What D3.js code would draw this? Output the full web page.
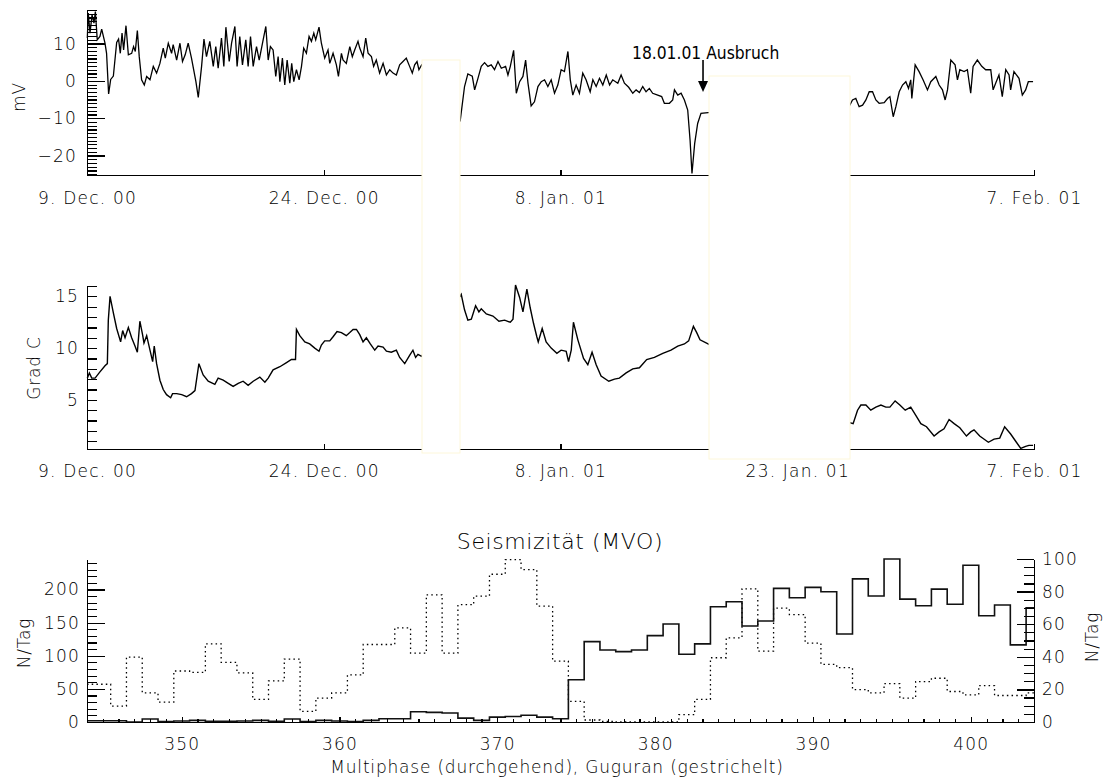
<!DOCTYPE html>
<html lang="de">
<head>
<meta charset="UTF-8">
<title>Eigenpotential, Temperatur, Seismizität</title>
<script src="https://cdn.jsdelivr.net/npm/d3@7"></script>
<style>
    body { margin: 0; background: #fff; }
    svg text { font-family: "DejaVu Sans", "Liberation Sans", sans-serif; font-weight: 200; fill: #000; }
    .ax text { font-size: 17px; letter-spacing: 1.2px; }
    .ax path, .ax line { stroke: #000; stroke-width: 1.2; shape-rendering: crispEdges; }
    .lbl { font-size: 17px; letter-spacing: 0.8px; }
</style>
</head>
<body>
<script>
    // Eigenpotential (mV), Tage ab 9. Dez. 00
    var mvDay = [
        0.02,0.08,0.19,0.32,0.44,0.53,0.65,0.82,0.93,1.14,1.24,1.37,1.50,1.67,1.88,2.00,2.11,2.22,2.32,2.47,
        2.62,2.83,2.95,3.06,3.19,3.31,3.46,3.63,3.78,3.99,4.20,4.41,4.62,4.83,4.96,5.15,5.36,5.46,5.68,5.89,
        6.05,6.22,6.41,6.62,6.90,7.05,7.26,7.41,7.57,7.78,8.00,8.16,8.31,8.52,8.67,8.80,9.01,9.16,9.37,9.51,
        9.68,9.85,10.06,10.21,10.36,10.53,10.74,10.91,11.16,11.33,11.48,11.62,11.79,11.96,12.11,12.22,12.38,12.53,12.68,12.85,
        12.97,13.10,13.27,13.44,13.59,13.73,13.90,14.07,14.22,14.37,14.49,14.70,14.85,15.06,15.27,15.38,15.59,15.80,15.93,16.12,
        16.22,16.43,16.65,16.81,16.96,17.17,17.28,17.49,17.66,17.81,18.02,18.16,18.33,18.54,18.76,18.97,19.18,19.39,19.60,19.81,
        20.02,20.23,20.44,20.61,20.76,20.91,21.03,21.20,
        23.65,23.92,24.13,24.41,24.56,24.77,24.98,25.19,25.40,25.61,25.82,26.04,26.25,26.52,26.67,26.82,27.03,27.20,27.41,27.62,
        27.79,27.94,28.14,28.35,28.57,28.78,28.99,29.20,29.41,29.62,29.83,30.04,30.25,30.47,30.62,30.78,30.99,31.20,31.41,31.62,
        31.88,32.05,32.26,32.47,32.68,32.90,33.11,33.31,33.63,33.84,34.05,34.32,34.58,34.79,35.00,35.21,35.42,35.63,35.84,36.16,
        36.41,36.58,36.90,37.11,37.22,37.43,37.64,37.85,38.06,38.21,38.33,38.50,38.69,38.90,39.35,
        48.33,48.50,48.71,48.92,49.14,49.35,49.56,49.77,49.98,50.19,50.51,50.72,50.87,51.08,51.25,51.46,51.67,51.88,52.05,52.19,
        52.26,52.47,52.72,52.97,53.25,53.46,53.78,53.99,54.20,54.37,54.52,54.73,55.00,55.15,55.30,55.57,55.78,55.99,56.14,56.41,
        56.69,56.94,57.26,57.41,57.57,57.78,57.99,58.21,58.42,58.52,58.73,59.05,59.26,59.47,59.64,59.94
    ];
    var mvVal = [
        11.5,18.2,12.8,17.7,15.5,18.6,11.0,11.9,13.9,10.1,7.4,-3.5,0.4,1.3,10.3,11.2,7.4,12.8,8.3,14.8,
        7.0,7.4,9.2,7.9,13.5,6.5,0.3,-1.1,1.2,0.3,3.9,2.1,4.7,8.8,6.1,10.1,7.4,9.7,5.6,10.1,
        5.2,7.0,10.1,6.1,-0.2,-4.4,3.9,11.2,6.5,10.6,3.9,9.2,3.4,11.5,3.9,14.4,5.2,10.1,14.6,3.9,
        11.9,4.3,11.0,3.9,11.9,3.9,9.2,5.6,11.0,14.6,5.6,9.2,8.3,1.2,6.5,-0.2,6.1,-1.1,5.6,-0.6,
        4.7,-0.2,3.0,0.3,3.9,8.8,7.4,11.9,10.6,12.8,11.0,14.4,10.1,6.1,8.3,4.7,7.4,4.3,1.2,7.4,
        5.6,4.7,9.2,6.5,8.3,10.6,8.8,6.5,11.5,7.4,6.5,3.9,5.6,2.1,4.7,1.6,3.0,2.1,1.6,4.3,
        5.2,6.1,3.9,2.1,4.3,5.2,3.0,4.3,
        -10.5,-1.5,1.9,1.3,-2.4,0.7,3.9,4.9,3.9,4.3,3.0,5.2,3.4,3.9,1.6,3.9,8.2,-3.3,-0.2,1.2,
        5.6,-0.6,-6.7,-5.6,-1.5,-0.2,0.3,-1.5,0.3,-3.3,-1.1,3.0,2.5,7.9,0.3,-3.8,-1.1,-3.3,2.1,0.3,
        -2.9,0.3,-1.5,0.7,-1.1,1.6,-1.1,0.3,-0.6,1.6,-0.6,-1.7,-3.3,-2.4,-3.1,-1.5,-2.9,-2.0,-3.3,-3.8,
        -4.2,-6.0,-6.0,-5.1,-2.4,-3.8,-3.3,-5.1,-7.8,-15.9,-24.8,-16.8,-11.4,-8.7,-8.5,
        -6.5,-5.1,-4.7,-6.9,-6.5,-5.1,-2.9,-2.9,-5.1,-6.0,-5.8,-4.7,-4.2,-9.6,-6.9,-2.9,-1.1,-0.2,-2.0,0.3,
        -4.7,4.3,2.5,0.3,-2.4,-0.2,1.2,-1.1,-2.4,-5.1,-2.4,5.6,4.3,0.3,3.0,2.5,3.0,-3.3,3.9,5.6,
        3.9,3.0,3.0,-2.4,-0.6,1.6,-4.2,3.0,1.6,-2.4,2.5,0.7,-3.8,-2.4,-0.2,-0.2
    ];

    // Temperatur (Grad C)
    var tDay = [
        0.02,0.15,0.30,0.51,0.82,1.14,1.29,1.35,1.46,1.67,1.88,2.13,2.26,2.41,2.62,2.83,3.04,3.19,3.35,3.52,
        3.61,3.78,3.99,4.16,4.26,4.41,4.62,4.83,5.04,5.30,5.42,5.68,6.00,6.31,6.62,6.84,7.09,7.36,7.68,8.10,
        8.31,8.63,8.95,9.26,9.58,9.89,10.21,10.53,10.95,11.27,11.48,11.79,12.22,12.64,12.95,13.21,13.27,13.48,13.80,14.11,
        14.43,14.70,14.85,15.06,15.38,15.59,15.84,16.12,16.43,16.65,16.86,17.07,17.28,17.49,17.70,17.95,18.23,18.44,18.76,18.97,
        19.28,19.60,19.81,20.13,20.44,20.65,20.82,20.97,21.20,
        23.71,23.92,24.13,24.35,24.62,24.83,24.98,25.30,25.72,26.10,26.46,26.82,26.99,27.15,27.41,27.62,27.87,28.08,28.29,28.50,
        28.59,28.84,29.09,29.41,29.77,30.04,30.36,30.51,30.68,30.82,31.10,31.46,31.73,32.00,32.26,32.57,33.06,33.42,33.73,34.16,
        34.58,35.00,35.46,35.95,36.48,37.00,37.43,37.85,38.12,38.42,38.63,38.84,39.35,
        48.33,48.54,48.82,49.03,49.35,49.66,49.98,50.30,50.61,50.87,51.20,51.50,51.84,52.19,52.55,52.83,53.19,53.67,53.99,54.30,
        54.62,54.94,55.30,55.72,55.99,56.20,56.56,57.11,57.47,57.83,58.14,58.52,58.84,59.16,59.47,59.68,59.94
    ];
    var tVal = [
        7.1,7.6,7.1,7.1,7.7,8.3,8.5,12.7,15.0,13.4,11.9,10.6,11.7,11.0,12.0,11.0,10.2,9.6,12.6,11.3,
        10.5,11.2,9.8,8.7,10.2,8.5,6.9,6.0,5.5,5.2,5.6,5.6,5.5,5.3,5.6,5.9,8.5,7.4,6.8,6.5,
        7.1,6.9,6.6,6.3,6.6,6.8,6.4,6.8,7.2,6.7,7.1,7.9,8.2,8.6,8.9,8.9,11.8,11.2,10.6,10.4,
        10.0,9.7,10.3,10.7,10.7,11.1,11.6,11.5,11.2,11.5,11.8,11.8,11.3,10.6,11.0,10.4,9.8,10.2,10.1,9.7,
        9.6,9.8,9.1,8.5,9.3,9.8,9.1,9.4,9.2,
        15.2,13.7,12.7,12.8,14.1,13.5,13.8,13.3,13.1,12.6,12.7,12.5,12.8,16.1,14.9,13.5,15.7,13.9,12.4,11.1,
        10.6,11.9,10.6,10.0,9.5,9.8,9.7,8.7,9.8,12.5,10.8,9.0,8.4,9.6,8.4,7.3,6.8,7.0,7.1,7.6,
        8.0,8.1,8.9,9.1,9.5,9.8,10.2,10.4,10.7,12.1,11.5,10.8,10.4,
        2.8,2.7,4.0,4.5,4.5,4.0,4.3,4.5,4.3,4.3,4.9,4.5,4.0,4.3,3.4,2.7,2.4,1.5,1.9,2.2,
        3.1,2.7,2.3,1.5,1.9,2.1,1.5,0.9,1.2,1.3,2.4,1.7,1.0,0.3,0.5,0.6,0.6
    ];

    var dateTicks = [0, 15, 30, 45, 60];
    var dateLabels = ["9. Dec. 00", "24. Dec. 00", "8. Jan. 01", "23. Jan. 01", "7. Feb. 01"];

    // Seismizität: Tag des Jahres
    var doy = [344,345,346,347,348,349,350,351,352,353,354,355,356,357,358,359,360,361,362,363,
               364,365,366,367,368,369,370,371,372,373,374,375,376,377,378,379,380,381,382,383,
               384,385,386,387,388,389,390,391,392,393,394,395,396,397,398,399,400,401,402,403,404];
    // Guguran (gestrichelt), linke Achse
    var guguran = [57,57,24,98,44,30,77,75,118,90,74,34,62,95,16,36,44,71,117,117,
                   142,104,192,104,177,190,223,245,230,175,92,31,3,1,0,0,0,0,11,34,
                   97,127,201,107,172,162,119,87,82,49,44,58,36,61,66,46,41,55,40,40,44];
    // Multiphase (durchgehend), rechte Achse
    var multiphase = [0.8,0.8,0.8,0,1.8,0.2,0.6,1.0,0.4,0.4,0.6,1.0,0.4,1.8,0.2,1.0,0.6,0.2,1.0,2.0,
                      2.0,6.3,5.9,5.5,2.4,1.0,3.0,3.4,4.1,3.0,2.0,25.9,49.3,44.2,43.2,44.2,53.0,60.1,41.6,47.9,
                      70.7,73.8,58.9,62.0,82.0,76.2,82.6,79.9,54.0,87.8,77.3,100,75.4,71.3,81.5,72.2,96.2,65.2,71.8,47.3,70.1];

    var W = 1103, H = 781;
    var svg = d3.select("body").append("svg")
            .attr("width", W)
            .attr("height", H);

    var xDay = d3.scaleLinear().domain([0, 60]).range([87, 1034]);
    var yMv = d3.scaleLinear().domain([-25.2, 19]).range([175, 10]);
    var yTemp = d3.scaleLinear().domain([0.25, 16.1]).range([449, 285]);
    var xDoy = d3.scaleLinear().domain([344, 404]).range([87, 1034]);
    var yGug = d3.scaleLinear().domain([0, 246]).range([722, 559]);
    var yMp = d3.scaleLinear().domain([0, 100]).range([722, 559]);

    var fmt = function (v) { return v < 0 ? "\u2212" + Math.abs(v) : String(v); };

    // y-Achse mit kleinen und grossen Strichen
    function yAxis(axisFn, scale, x, minor, major, minorLen, majorLen, pad) {
        var g = svg.append("g").attr("class", "ax").attr("transform", "translate(" + x + ",0)");
        g.call(axisFn(scale).tickValues(minor).tickSize(-minorLen).tickSizeOuter(0).tickFormat(""));
        var g2 = svg.append("g").attr("class", "ax").attr("transform", "translate(" + x + ",0)");
        g2.call(axisFn(scale).tickValues(major).tickSize(-majorLen).tickSizeOuter(0).tickPadding(pad).tickFormat(fmt));
        g2.select(".domain").remove();
    }

    function xAxis(scale, y, minor, major, labels, pad) {
        if (minor) {
            svg.append("g").attr("class", "ax").attr("transform", "translate(0," + y + ")")
                    .call(d3.axisBottom(scale).tickValues(minor).tickSize(-3).tickSizeOuter(0).tickFormat(""));
        }
        var g = svg.append("g").attr("class", "ax").attr("transform", "translate(0," + y + ")")
                .call(d3.axisBottom(scale).tickValues(major).tickSize(-5).tickSizeOuter(0).tickPadding(pad)
                        .tickFormat(function (d, i) { return labels ? labels[i] : d; }));
        if (minor) g.select(".domain").remove();
    }

    // Panel 1: mV
    svg.append("path")
            .datum(d3.zip(mvDay, mvVal))
            .attr("fill", "none").attr("stroke", "#000").attr("stroke-width", 1.3)
            .attr("d", d3.line().x(function (d) { return xDay(d[0]); }).y(function (d) { return yMv(d[1]); }));
    yAxis(d3.axisLeft, yMv, 87, d3.range(-25, 20, 1), [-20, -10, 0, 10], 10, 18, 10);
    xAxis(xDay, 175, null, dateTicks, dateLabels, 17);

    // Panel 2: Temperatur
    svg.append("path")
            .datum(d3.zip(tDay, tVal))
            .attr("fill", "none").attr("stroke", "#000").attr("stroke-width", 1.4)
            .attr("d", d3.line().x(function (d) { return xDay(d[0]); }).y(function (d) { return yTemp(d[1]); }));
    yAxis(d3.axisLeft, yTemp, 87, d3.range(1, 17, 1), [5, 10, 15], 10, 10, 8);
    xAxis(xDay, 449, null, dateTicks, dateLabels, 16);

    // Panel 3: Seismizität
    svg.append("path")
            .datum(d3.zip(doy, guguran))
            .attr("fill", "none").attr("stroke", "#000").attr("stroke-width", 1.3)
            .attr("stroke-dasharray", "1.5,3.2")
            .attr("d", d3.line().curve(d3.curveStep).x(function (d) { return xDoy(d[0]); }).y(function (d) { return yGug(d[1]); }));
    svg.append("path")
            .datum(d3.zip(doy, multiphase))
            .attr("fill", "none").attr("stroke", "#111").attr("stroke-width", 1.6)
            .attr("d", d3.line().curve(d3.curveStep).x(function (d) { return xDoy(d[0]); }).y(function (d) { return yMp(d[1]); }));
    yAxis(d3.axisLeft, yGug, 87, d3.range(0, 250, 10), [0, 50, 100, 150, 200], 10, 18, 7);
    yAxis(d3.axisRight, yMp, 1034, d3.range(0, 105, 5), [0, 20, 40, 60, 80, 100], 10, 17, 8);
    xAxis(xDoy, 722, d3.range(344, 405, 1), [350, 360, 370, 380, 390, 400], null, 16);

    // Achsentitel
    svg.append("text").attr("class", "lbl").attr("transform", "translate(25,97) rotate(-90)")
            .attr("text-anchor", "middle").text("mV");
    svg.append("text").attr("class", "lbl").attr("transform", "translate(40,368) rotate(-90)")
            .attr("text-anchor", "middle").text("Grad C");
    svg.append("text").attr("class", "lbl").attr("transform", "translate(30,643) rotate(-90)")
            .attr("text-anchor", "middle").text("N/Tag");
    svg.append("text").attr("class", "lbl").attr("transform", "translate(1098,637) rotate(-90)")
            .attr("text-anchor", "middle").text("N/Tag");
    svg.append("text").attr("x", 560).attr("y", 549).attr("text-anchor", "middle")
            .style("font-size", "22px").style("letter-spacing", "0.6px").text("Seismizität (MVO)");
    svg.append("text").attr("class", "lbl").attr("x", 557).attr("y", 773).attr("text-anchor", "middle")
            .text("Multiphase (durchgehend), Guguran (gestrichelt)");

    // weisse Abdeckungen (Datenluecken)
    svg.append("rect").attr("x", 422).attr("y", 60).attr("width", 38).attr("height", 393)
            .attr("fill", "#fff").attr("stroke", "#fdf7da").attr("stroke-width", 1);
    svg.append("rect").attr("x", 709).attr("y", 76).attr("width", 141).attr("height", 383)
            .attr("fill", "#fff").attr("stroke", "#fdf7da").attr("stroke-width", 1);

    // Ausbruch-Markierung
    var ax = xDay(39.03);
    svg.append("line").attr("x1", ax).attr("x2", ax).attr("y1", 60).attr("y2", 82)
            .attr("stroke", "#000").attr("stroke-width", 1.6);
    svg.append("path").attr("d", "M" + (ax - 5) + ",81L" + (ax + 5) + ",81L" + ax + ",92Z").attr("fill", "#000");
    svg.append("text").attr("x", 632).attr("y", 59)
            .style("font-family", "'DejaVu Sans Condensed', 'DejaVu Sans', sans-serif")
            .style("font-weight", "400").style("font-size", "17.3px").style("fill", "#000")
            .text("18.01.01 Ausbruch");
</script>
</body>
</html>
